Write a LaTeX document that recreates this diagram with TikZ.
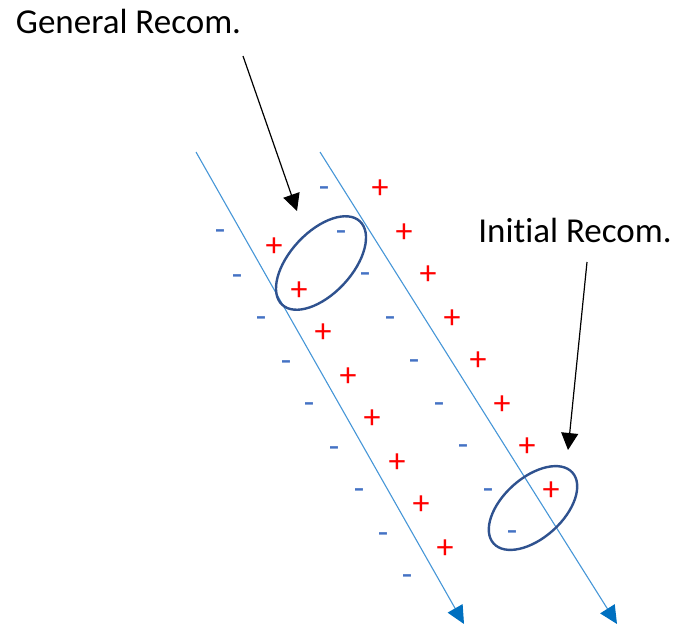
\documentclass[tikz,border=0pt]{standalone}
\usepackage{fontspec}
\setmainfont{Carlito}[Ligatures={NoCommon,NoRequired,NoContextual}]
\usetikzlibrary{arrows.meta,shapes.geometric}
\definecolor{flowblue}{RGB}{70,150,215}
\definecolor{tipblue}{RGB}{0,112,192}
\definecolor{ringblue}{RGB}{47,82,143}
\definecolor{minusblue}{RGB}{68,114,196}
\definecolor{plusred}{RGB}{255,0,0}
\tikzset{
  flow/.style={draw=flowblue, line width=1.1pt,
    -{Triangle[length=18pt,width=17pt,color=tipblue]}},
  pointer/.style={draw=black, line width=1.2pt,
    -{Triangle[length=17pt,width=17pt]}},
  ring/.style={ellipse, draw=ringblue, line width=2.4pt, inner sep=0pt},
  caption/.style={font=\fontsize{35}{42}\selectfont, inner sep=0pt, anchor=base},
  plusmark/.style={font=\fontsize{34}{40}\selectfont, text=plusred, inner sep=0pt,
    anchor=base, yshift=-11.5pt},
  minusmark/.style={font=\fontsize{34}{40}\selectfont, text=minusblue, inner sep=0pt,
    anchor=base, yshift=-9pt}
}
\begin{document}
\begin{tikzpicture}[x=1pt, y=-1pt]
\useasboundingbox (0,0) rectangle (676,624);

% labels
\node[caption] (gen) at (128.5,33.5) {General Recom.};
\node[caption] (ini) at (575,242) {Initial Recom.};

% the two tracks
\coordinate (t1s) at (196,152);
\coordinate (t1e) at (464,624);
\coordinate (t2s) at (320,152);
\coordinate (t2e) at (617,624);
\draw[flow] (t1s) -- (t1e);
\draw[flow] (t2s) -- (t2e);

% recombination rings
\node[ring, minimum width=114pt, minimum height=62pt, rotate=47] (genring) at (321,263) {};
\node[ring, minimum width=106pt, minimum height=60pt, rotate=42] (inring) at (533,508) {};

% pointers
\coordinate (gp) at (243,56);
\coordinate (gt) at (297,211);
\coordinate (ip) at (587,262);
\coordinate (it) at (568,450);
\draw[pointer] (gp) -- (gt);
\draw[pointer] (ip) -- (it);

% charges, outer left column
\foreach \x/\y [count=\i] in {220/231,237/276,261/318,286/362,309/404,334/448,359/490,383/534,407/576}
  \node[minusmark] (ma\i) at (\x,\y) {-};
% charges, middle column
\foreach \x/\y [count=\i] in {274/245,299/289,323/331,348/375,372/417,397/461,421/503,445/547}
  \node[plusmark] (pa\i) at (\x,\y) {+};
% charges, inner right column
\foreach \x/\y [count=\i] in {324/188,341/232,365/274,390/318,414/361,439/404,463/446,488/490,512/532}
  \node[minusmark] (mb\i) at (\x,\y) {-};
% charges, outer right column
\foreach \x/\y [count=\i] in {380/187,404/231,428/273,452/317,478/359,502/403,527/445,551/489}
  \node[plusmark] (pb\i) at (\x,\y) {+};
\end{tikzpicture}
\end{document}
